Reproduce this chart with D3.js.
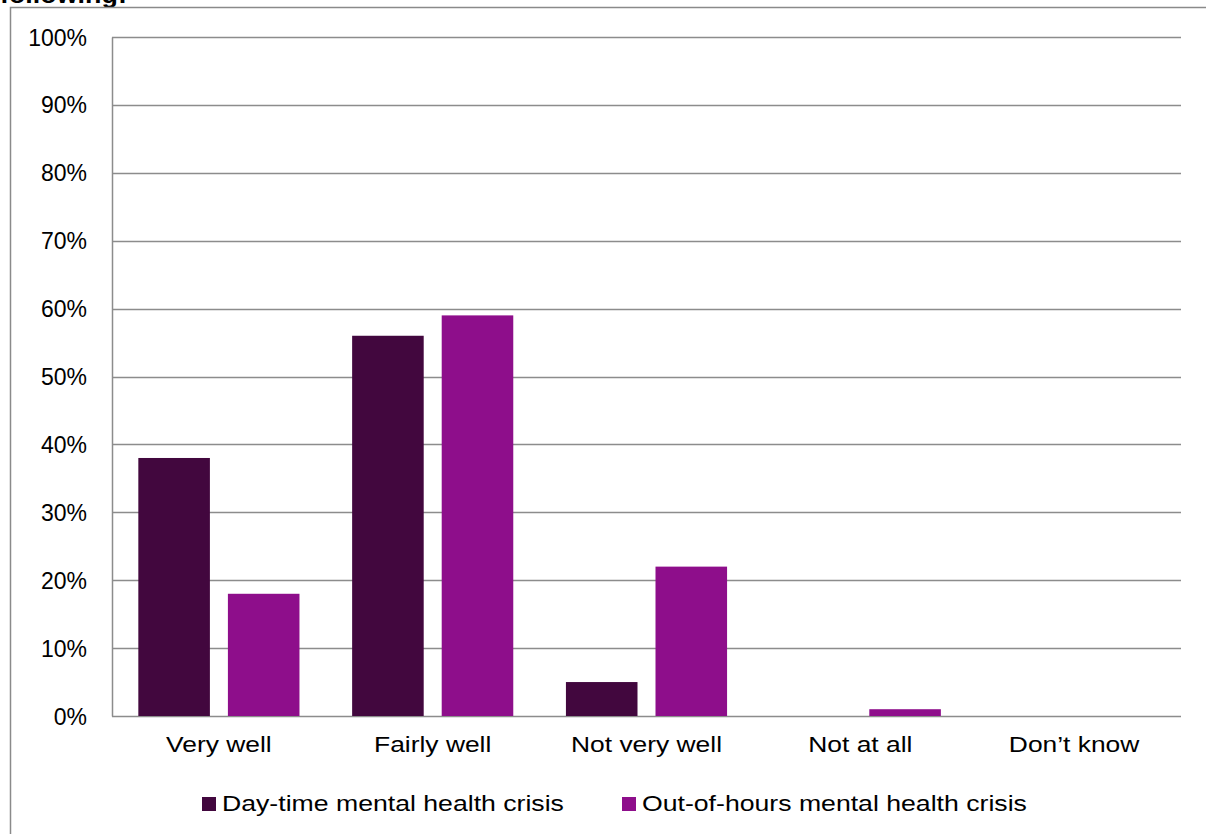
<!DOCTYPE html>
<html>
<head>
<meta charset="utf-8">
<script src="https://cdn.jsdelivr.net/npm/d3@7"></script>
<style>
  html, body { margin: 0; padding: 0; background: #fff; }
  svg { display: block; }
  text { font-family: "Liberation Sans", Arial, sans-serif; fill: #000; }
</style>
</head>
<body>
<svg id="chart" width="1206" height="834"></svg>
<script>
// Survey responses, percentage of respondents
const categories = ["Very well", "Fairly well", "Not very well", "Not at all", "Don\u2019t know"];
const seriesNames = ["Day-time mental health crisis", "Out-of-hours mental health crisis"];
const dayTime = [38, 56, 5, 0, 0];
const outOfHours = [18, 59, 22, 1, 0];
const yTicks = [0, 10, 20, 30, 40, 50, 60, 70, 80, 90, 100];
const colors = ["#42073e", "#8e0e8b"];

const svg = d3.select("#chart");
const W = 1206, H = 834;
const plot = { left: 112, right: 1181, top: 37, bottom: 716 };
const stretch = 1.2; // glyphs in this chart are set wide

// Cut-off heading line above the frame
svg.append("text")
  .attr("transform", `translate(0,3) scale(1.12,1)`)
  .attr("font-size", 24)
  .attr("font-weight", "bold")
  .text("following:");

// Outer frame (top and left edges)
svg.append("path")
  .attr("d", `M10.5,${H} L10.5,7.5 L${W},7.5`)
  .attr("fill", "none")
  .attr("stroke", "#8a8a8a")
  .attr("stroke-width", 1.5);

const y = d3.scaleLinear().domain([0, 100]).range([plot.bottom, plot.top]);
const x0 = d3.scaleBand().domain(categories).range([plot.left, plot.right]).paddingInner(0).paddingOuter(0);
const x1 = d3.scaleBand().domain(seriesNames).range([0, x0.bandwidth()]).paddingInner(0.201).paddingOuter(0.294);

// Horizontal gridlines
svg.append("g")
  .selectAll("line")
  .data(yTicks)
  .join("line")
  .attr("x1", plot.left)
  .attr("x2", plot.right)
  .attr("y1", d => Math.round(y(d)) + 0.5)
  .attr("y2", d => Math.round(y(d)) + 0.5)
  .attr("stroke", "#8c8c8c")
  .attr("stroke-width", 1.5);

// Left edge of the plot area
svg.append("line")
  .attr("x1", plot.left + 0.5).attr("x2", plot.left + 0.5)
  .attr("y1", Math.round(y(100)) + 0.5).attr("y2", Math.round(y(0)) + 0.5)
  .attr("stroke", "#8c8c8c")
  .attr("stroke-width", 1.5);

// Y axis labels
svg.append("g")
  .selectAll("text")
  .data(yTicks)
  .join("text")
  .attr("x", 87)
  .attr("y", d => y(d) + 8.5)
  .attr("text-anchor", "end")
  .attr("font-size", 23)
  .text(d => d + "%");

// Bars
const rows = categories.map((c, i) => ({ category: c, values: [dayTime[i], outOfHours[i]] }));
const groups = svg.append("g")
  .selectAll("g")
  .data(rows)
  .join("g")
  .attr("transform", d => `translate(${x0(d.category)},0)`);

groups.selectAll("rect")
  .data(d => d.values.map((v, j) => ({ name: seriesNames[j], value: v, j })))
  .join("rect")
  .filter(d => d.value > 0)
  .attr("x", d => x1(d.name))
  .attr("width", x1.bandwidth())
  .attr("y", d => y(d.value))
  .attr("height", d => y(0) - y(d.value))
  .attr("fill", d => colors[d.j]);

// Category labels
svg.append("g")
  .selectAll("text")
  .data(categories)
  .join("text")
  .attr("transform", d => `translate(${x0(d) + x0.bandwidth() / 2},752) scale(${stretch},1)`)
  .attr("text-anchor", "middle")
  .attr("font-size", 22)
  .text(d => d);

// Legend
const legendX = [202, 622];
const legend = svg.append("g")
  .selectAll("g")
  .data(seriesNames)
  .join("g")
  .attr("transform", (d, i) => `translate(${legendX[i]},0)`);

legend.append("rect")
  .attr("x", 0).attr("y", 797)
  .attr("width", 14).attr("height", 14)
  .attr("fill", (d, i) => colors[i]);

legend.append("text")
  .attr("transform", `translate(20,811) scale(${stretch},1)`)
  .attr("font-size", 22.2)
  .text(d => d);
</script>
</body>
</html>
